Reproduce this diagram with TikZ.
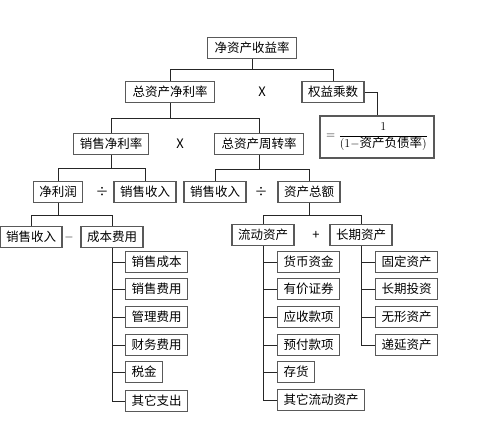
\documentclass[tikz,border=0pt]{standalone}
\usepackage{fontspec}
\setmainfont{Noto Sans CJK SC}
\begin{document}
\begin{tikzpicture}[x=1pt, y=-1pt,
    caja/.style={draw=black!65, line width=1.3pt, fill=white, font=\fontsize{12.5}{14}\selectfont, inner xsep=6pt, inner ysep=0pt, minimum height=21pt},
    ancha/.style={caja, minimum width=89pt},
    op/.style={font=\fontsize{13}{14}\selectfont},
    rama/.style={draw=black!85, line width=0.9pt}]
    \useasboundingbox (0,0) rectangle (500,424);

    % Nivel 1
    \node[ancha] (roe) at (252,48) {净资产收益率};

    % Nivel 2
    \node[ancha] (roa) at (170,92) {总资产净利率};
    \node[op] (x1) at (262,92) {X};
    \node[caja] (em) at (333,92) {权益乘数};
    \node[caja, minimum width=112pt, minimum height=42pt] (frac) at (377,137)
        {$=\displaystyle\frac{1}{(1{-}\mbox{资产负债率})}$};

    % Nivel 3
    \node[caja] (npm) at (111,144) {销售净利率};
    \node[op] (x2) at (180,144) {X};
    \node[ancha] (tat) at (259,144) {总资产周转率};

    % Nivel 4
    \node[caja] (np) at (58,192) {净利润};
    \node[op] (d1) at (102,192) {÷};
    \node[caja] (sr1) at (145,192) {销售收入};
    \node[caja] (sr2) at (215,192) {销售收入};
    \node[op] (d2) at (261,192) {÷};
    \node[caja] (ta) at (309,192) {资产总额};

    % Nivel 5
    \node[caja] (sr3) at (31,237) {销售收入};
    \node[op] (m1) at (69,237) {$-$};
    \node[caja] (cost) at (112,237) {成本费用};
    \node[caja] (ca) at (263,235) {流动资产};
    \node[op] (p1) at (316,235) {+};
    \node[caja] (la) at (361,235) {长期资产};

    % Listas
    \foreach \nombre/\texto/\y in {c1/销售成本/262, c2/销售费用/289, c3/管理费用/317,
        c4/财务费用/345, c5/税金/372, c6/其它支出/401}
        \node[caja, anchor=west] (\nombre) at (125,\y) {\texto};
    \foreach \nombre/\texto/\y in {a1/货币资金/262, a2/有价证券/289, a3/应收款项/317,
        a4/预付款项/345, a5/存货/372, a6/其它流动资产/400}
        \node[caja, anchor=west] (\nombre) at (277,\y) {\texto};
    \foreach \nombre/\texto/\y in {b1/固定资产/262, b2/长期投资/289, b3/无形资产/317,
        b4/递延资产/345}
        \node[caja, anchor=west] (\nombre) at (375,\y) {\texto};

    % Conexiones
    \draw[rama] (roe.south) -- ++(0,10) coordinate (j1);
    \draw[rama] (roa.north) |- (j1) -| (em.north);
    \draw[rama] (em.east) -| (frac.north);
    \draw[rama] (roa.south) -- ++(0,15) coordinate (j2);
    \draw[rama] (npm.north) |- (j2) -| (tat.north);
    \draw[rama] (npm.south) -- ++(0,13) coordinate (j3);
    \draw[rama] (np.north) |- (j3) -| (sr1.north);
    \draw[rama] (tat.south) -- ++(0,14) coordinate (j4);
    \draw[rama] (sr2.north) |- (j4) -| (ta.north);
    \draw[rama] (np.south) -- ++(0,12) coordinate (j5);
    \draw[rama] (sr3.north) |- (j5) -| (cost.north);
    \draw[rama] (ta.south) -- ++(0,12) coordinate (j6);
    \draw[rama] (ca.north) |- (j6) -| (la.north);

    % Ramas verticales
    \draw[rama] (cost.south) |- (c6.west);
    \foreach \n in {c1,c2,c3,c4,c5}
        \draw[rama] (cost.south |- \n.west) -- (\n.west);
    \draw[rama] (ca.south) |- (a6.west);
    \foreach \n in {a1,a2,a3,a4,a5}
        \draw[rama] (ca.south |- \n.west) -- (\n.west);
    \draw[rama] (la.south) |- (b4.west);
    \foreach \n in {b1,b2,b3}
        \draw[rama] (la.south |- \n.west) -- (\n.west);
\end{tikzpicture}
\end{document}
